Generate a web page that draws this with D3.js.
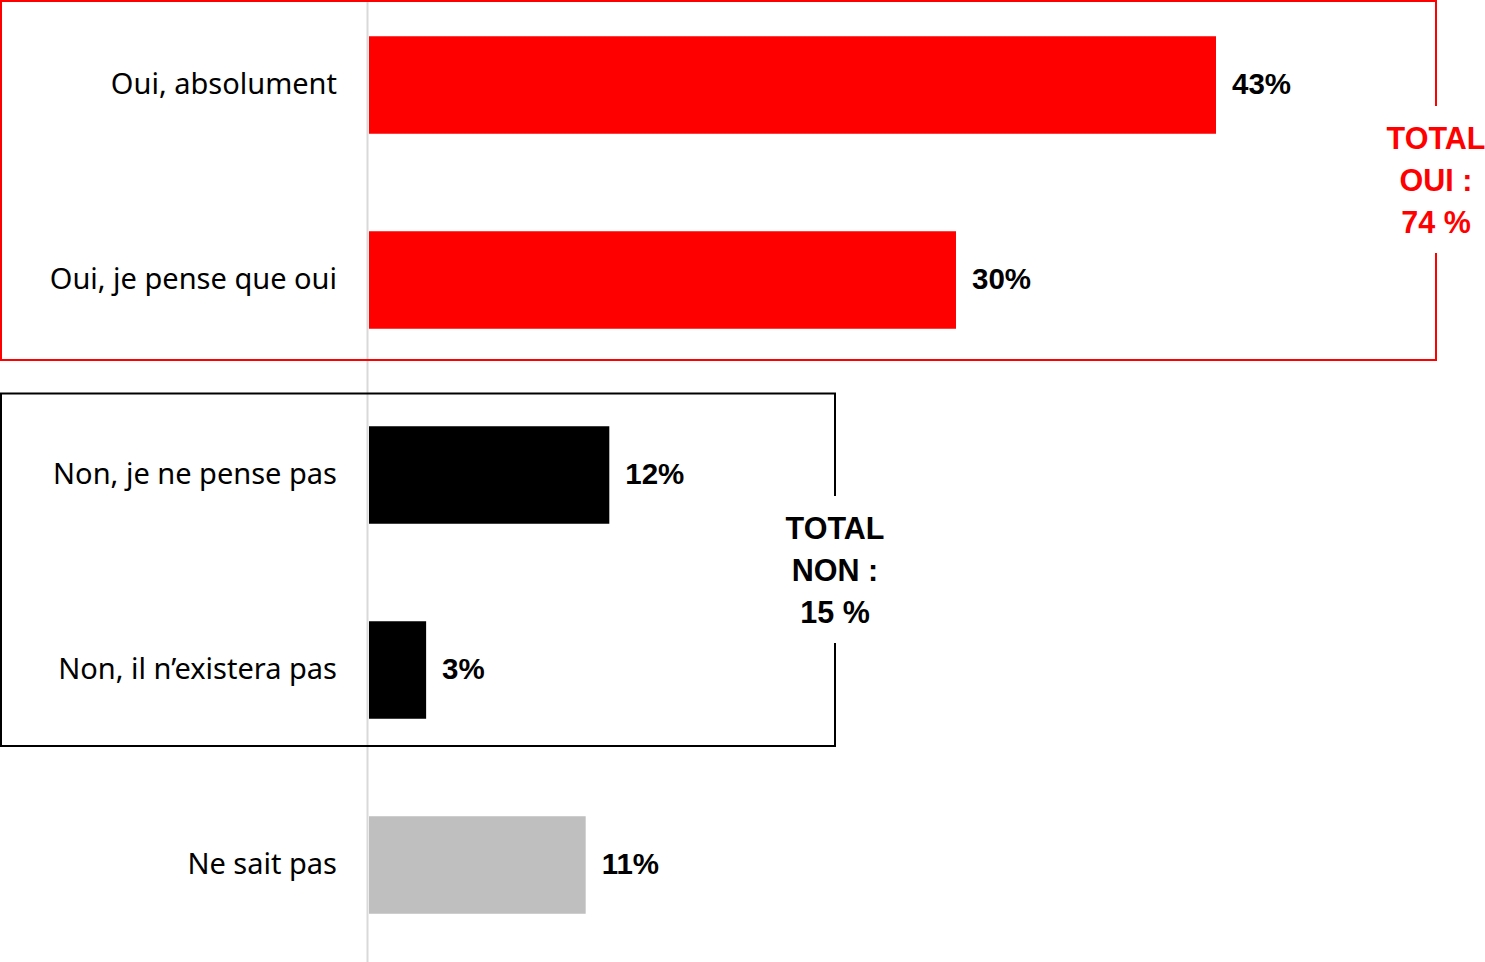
<!DOCTYPE html>
<html><head><meta charset="utf-8">
<script src="https://cdn.jsdelivr.net/npm/d3@7"></script>
<style>body{margin:0;background:#fff;}svg{display:block;}</style>
</head><body>
<svg id="c" width="1485" height="962"></svg>
<script>
const categories = ["Oui, absolument","Oui, je pense que oui","Non, je ne pense pas","Non, il n\u2019existera pas","Ne sait pas"];
const values = [43, 29.8, 12.2, 2.9, 11];
const valueLabels = ["43%","30%","12%","3%","11%"];
const groups = ["oui","oui","non","non","nsp"];
const totalOui = ["TOTAL","OUI :","74 %"];
const totalNon = ["TOTAL","NON :","15 %"];

const colors = {oui:"#ff0000", non:"#000000", nsp:"#bfbfbf"};
const svg = d3.select("#c");
const x = d3.scaleLinear().domain([0, 43]).range([369, 1216]);
const y = d3.scaleBand().domain(categories).range([-12.5, 962.5]).paddingInner(0.5).paddingOuter(0.25);

// axis line
svg.append("line").attr("x1",367.5).attr("x2",367.5).attr("y1",0).attr("y2",962)
  .attr("stroke","#d9d9d9").attr("stroke-width",2);

svg.selectAll("rect.bar").data(categories).join("rect").attr("class","bar")
  .attr("x", x(0)).attr("y", d=>y(d)).attr("height", y.bandwidth())
  .attr("width", (d,i)=>x(values[i])-x(0)).attr("fill",(d,i)=>colors[groups[i]]);

svg.selectAll("text.cat").data(categories).join("text").attr("class","cat")
  .attr("x",337).attr("y",d=>y(d)+y.bandwidth()/2).attr("dy","0.31em")
  .attr("text-anchor","end").attr("font-family","Noto Sans").attr("font-size",29).attr("fill","#000")
  .text(d=>d);

svg.selectAll("text.val").data(categories).join("text").attr("class","val")
  .attr("x",(d,i)=>x(values[i])+16).attr("y",d=>y(d)+y.bandwidth()/2).attr("dy","0.3em")
  .attr("font-family","Liberation Sans, Arial").attr("font-weight","bold").attr("font-size",29.5).attr("fill","#000")
  .text((d,i)=>valueLabels[i]);

// boxes with gaps
function box(x0,y0,x1,y1,gapTop,gapBot,color,w){
  const p = `M${x1},${gapTop} L${x1},${y0} L${x0},${y0} L${x0},${y1} L${x1},${y1} L${x1},${gapBot}`;
  svg.append("path").attr("d",p).attr("fill","none").attr("stroke",color).attr("stroke-width",w);
}
box(1,1,1436,360,106,253,"#ff0000",2);
box(1,393.5,835,746,496,643,"#000000",2);

function total(lines, cx, y0, color){
  svg.append("g").selectAll("text").data(lines).join("text")
    .attr("x",cx).attr("y",(d,i)=>y0+i*42).attr("dy","0.36em").attr("text-anchor","middle")
    .attr("font-family","Liberation Sans, Arial").attr("font-weight","bold").attr("font-size",30.5).attr("fill",color)
    .text(d=>d);
}
total(totalOui,1436,138,"#ff0000");
total(totalNon,835,528,"#000000");
</script>
</body></html>
